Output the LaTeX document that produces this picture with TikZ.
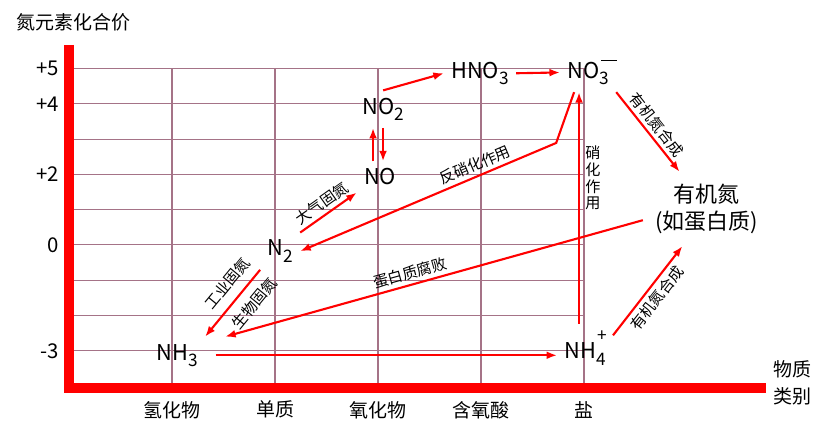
\documentclass[tikz,border=0pt]{standalone}
\usepackage{fontspec}
\setmainfont{Noto Sans CJK SC}
\usetikzlibrary{arrows.meta, positioning, calc}
\definecolor{gridc}{RGB}{165,115,135}
\newcommand{\chsub}[1]{\raisebox{-0.3em}{\fontsize{9.8}{10}\selectfont #1}}
\newcommand{\chplus}{\rlap{\kern0.05em\raisebox{0.78em}{\fontsize{9.8}{10}\selectfont +}}}
\newcommand{\chminus}{\rlap{\kern0.08em\raisebox{0.76em}{\rule{0.72em}{0.06em}}}}

\begin{document}
\begin{tikzpicture}[x=2.06cm, y=0.706cm,
  axis/.style={line width=0.2cm, red},
  gridline/.style={line width=0.6pt, gridc},
  ylab/.style={anchor=east, font=\fontsize{11.6}{13}\selectfont, inner sep=1pt},
  xlab/.style={font=\fontsize{10.8}{13}\selectfont},
  chem/.style={anchor=base, font=\fontsize{12.4}{14}\selectfont, inner sep=4pt},
  arr/.style={-{Latex[length=6pt, width=4.5pt]}, line width=1.2pt, red},
  lab/.style={font=\fontsize{8.6}{9.6}\selectfont, text=black, sloped, inner sep=2pt},
  org/.style={align=center, font=\fontsize{12.5}{15.3}\selectfont, inner sep=0.24cm}
]
  \useasboundingbox (-0.670,-5.354) rectangle (7.301,6.94);

  \foreach \y in {-3,...,5} \draw[gridline] (0,\y) -- (5,\y);
  \foreach \x in {1,...,5} \draw[gridline] (\x,-4) -- (\x,5);
  \draw[axis] (0,5.67) -- (0,-4.05) -- (6.77,-4.05);

  \node[anchor=west, xlab] (title) at (-0.573,6.32) {氮元素化合价};
  \foreach \v/\t [count=\i] in {5/+5, 4/+4, 2/+2, 0/0, -3/-3}
    \node[ylab] (yl\i) at (-0.08,\v) {\t};
  \foreach \t [count=\i] in {氢化物, 单质, 氧化物, 含氧酸, 盐}
    \node[xlab] (xl\i) at (\i,-4.67) {\t};
  \node[xlab, align=center, font=\fontsize{10.8}{15.3}\selectfont] (cat) at (7.02,-3.91) {物质\\类别};

  \node[chem] (nh3) at (1.05,-3.26) {NH\chsub{3}};
  \node[chem] (n2) at (2.05,-0.31) {N\chsub{2}};
  \node[chem] (no) at (3.02,1.70) {NO};
  \node[chem] (no2) at (3.05,3.71) {NO\chsub{2}};
  \node[chem] (hno3) at (3.99,4.73) {HNO\chsub{3}};
  \node[chem] (no3) at (5.04,4.73) {NO\chminus\chsub{3}};
  \node[chem] (nh4) at (5.01,-3.23) {NH\chplus\chsub{4}};
  \node[org] (org) at (6.19,1.02) {有机氮\\(如蛋白质)};

  \coordinate (bend) at (4.73,2.89);

  \draw[arr] (no2.north) -- (hno3.west);
  \draw[arr] (hno3.east) -- (no3.west);
  \draw[arr] ([xshift=-0.14cm]no.north) -- ([xshift=-0.14cm]no.north |- no2.south);
  \draw[arr] ([xshift=0.06cm]no.north |- no2.south) -- ([xshift=0.06cm]no.north);
  \draw[arr] (n2.north east) -- node[lab, above] {大气固氮} (no.south west);
  \draw[arr] ([xshift=-0.28cm]no3.south) -- (bend) -- node[lab, above, pos=0.3] {反硝化作用} (n2.east);
  \draw[arr] (n2.south west) -- node[lab, above=3pt, pos=0.36] {工业固氮} node[lab, below=3pt, pos=0.34] {生物固氮} (nh3.north east);
  \draw[arr] (org.190) -- node[lab, above, pos=0.55] {蛋白质腐败} ([xshift=0.4cm]nh3.north east);
  \draw[arr, shorten <=6pt] (nh3.mid east) -- (nh3.mid east -| nh4.west);
  \draw[arr] ([xshift=-0.12cm]nh4.north) -- node[right, pos=0.63, align=center, text=black, font=\fontsize{8.6}{9.6}\selectfont, inner sep=3pt] {硝\\化\\作\\用} ([xshift=-0.12cm]nh4.north |- no3.south);
  \draw[arr] (no3.south east) -- node[lab, above] {有机氮合成} (org.126);
  \draw[arr] (nh4.25) -- node[lab, below] {有机氮合成} (org.237);
\end{tikzpicture}
\end{document}
